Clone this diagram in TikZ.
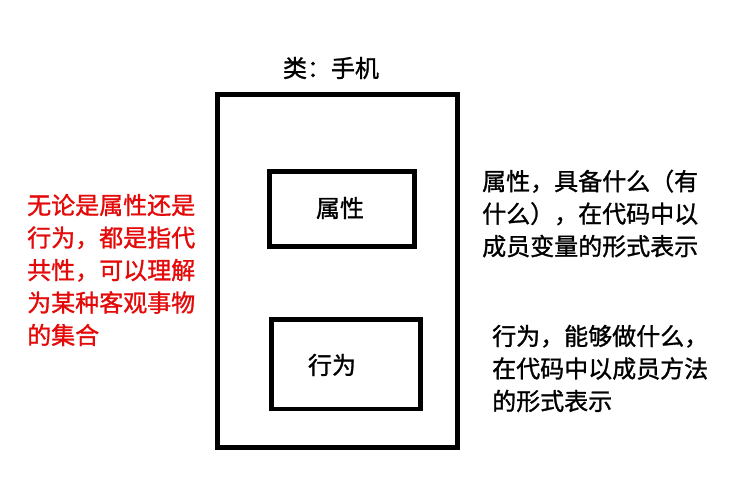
\documentclass[tikz,border=0pt]{standalone}
\usepackage{fontspec}
\newfontfamily\cjk[FakeBold=1.2]{Noto Sans CJK SC}
\definecolor{txtred}{RGB}{228,10,10}
\begin{document}
\begin{tikzpicture}[x=1pt,y=-1pt,
  box/.style={draw=black,line width=4.5pt},
  outerbox/.style={draw=black,line width=5pt},
  lbl/.style={inner sep=0pt,font=\cjk\fontsize{24}{32.5}\selectfont},
  para/.style={lbl,align=left,anchor=west}]
\useasboundingbox[fill=white] (0,0) rectangle (749,496);
\draw[outerbox] (217.5,94.5) rectangle (457,447);
\draw[box] (269.5,171.5) rectangle (414.5,246.5);
\draw[box] (271.5,319.5) rectangle (420.5,409);
\node[lbl] (title) at (331,68) {类：手机};
\node[lbl] (attr) at (340,208) {属性};
\node[lbl] (beh) at (332,365) {行为};
\node[para,text=txtred] (left) at (27,270) {无论是属性还是\\行为，都是指代\\共性，可以理解\\为某种客观事物\\的集合};
\node[para] (r1) at (482,213.5) {属性，具备什么（有\\什么），在代码中以\\成员变量的形式表示};
\node[para] (r2) at (492,368.5) {行为，能够做什么，\\在代码中以成员方法\\的形式表示};
\end{tikzpicture}
\end{document}
